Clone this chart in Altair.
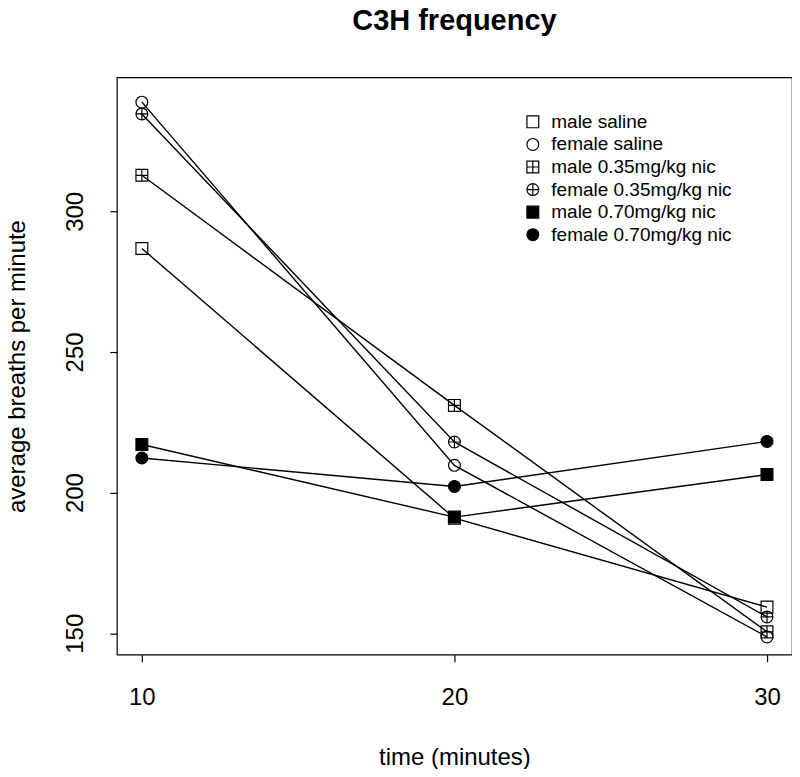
import altair as alt
import pandas as pd

times = [10, 20, 30]
series = ["male saline", "female saline", "male 0.35mg/kg nic",
          "female 0.35mg/kg nic", "male 0.70mg/kg nic", "female 0.70mg/kg nic"]
male_saline = [286.8, 190.9, 159.3]
female_saline = [338.8, 209.7, 148.7]
male_035 = [312.8, 231.0, 150.5]
female_035 = [334.6, 218.0, 155.8]
male_070 = [217.1, 191.3, 206.4]
female_070 = [212.3, 202.2, 218.2]

values = [male_saline, female_saline, male_035, female_035, male_070, female_070]
rows = []
for i, (name, vals) in enumerate(zip(series, values)):
    for t, v in zip(times, vals):
        rows.append({"series": name, "order": i, "time": t, "value": v})
df = pd.DataFrame(rows)

SQ = "M-1,-1L1,-1L1,1L-1,1Z"
CI = "M1,0A1,1,0,1,1,-1,0A1,1,0,1,1,1,0Z"
CROSS = "M0,-1L0,1M-1,0L1,0"
shapes = [SQ, CI, SQ + CROSS, CI + CROSS, SQ, CI]
fills = ["transparent", "transparent", "transparent", "transparent", "black", "black"]
strokes = ["black"] * 6

FONT = "Liberation Sans"

x = alt.X("time:Q", scale=alt.Scale(domain=[9.2, 30.8], nice=False, zero=False),
          axis=alt.Axis(values=[10, 20, 30], title="time (minutes)", format="d",
                        titleY=103, titleBaseline="middle", labelPadding=24))
y = alt.Y("value:Q", scale=alt.Scale(domain=[142.4, 347.6], nice=False, zero=False),
          axis=alt.Axis(values=[150, 200, 250, 300], title="average breaths per minute",
                        labelAngle=-90, labelAlign="center", labelBaseline="bottom",
                        labelPadding=22, titleX=-99, titleBaseline="middle"))

lines = alt.Chart(df).mark_line(color="black", strokeWidth=1.4).encode(
    x=x, y=y, detail="series:N", order="time:Q")

legend = alt.Legend(title=None, orient="none", legendX=407, legendY=35,
                    labelFontSize=19, labelFont=FONT, labelColor="black", symbolSize=140,
                    symbolStrokeWidth=1.2,
                    rowPadding=2.6, labelOffset=9, labelLimit=400)

points = alt.Chart(df).mark_point(strokeWidth=1.2, size=140, opacity=1).encode(
    x=x, y=y,
    shape=alt.Shape("series:N", scale=alt.Scale(domain=series, range=shapes), legend=legend),
    fill=alt.Fill("series:N", scale=alt.Scale(domain=series, range=fills), legend=legend),
    stroke=alt.Stroke("series:N", scale=alt.Scale(domain=series, range=strokes), legend=legend),
    order=alt.Order("order:Q"),
)

chart = alt.layer(lines, points).properties(
    width=676, height=578,
    title=alt.TitleParams("C3H frequency", fontSize=29, font=FONT, fontWeight="bold",
                          offset=41, anchor="middle", color="black"),
    autosize=alt.AutoSizeParams(type="none"),
    padding={"left": 109, "top": 69, "right": 0, "bottom": 114},
    background="white",
).configure_view(stroke="black", strokeWidth=1.2).configure_axis(
    domain=False, grid=False, ticks=True, tickSize=7, tickColor="black", tickWidth=1.2,
    labelFont=FONT, labelFontSize=24, labelColor="black",
    titleFont=FONT, titleFontSize=24, titleFontWeight="normal", titleColor="black",
)

chart.save("out.html", embed_options={"renderer": "svg", "actions": False})
